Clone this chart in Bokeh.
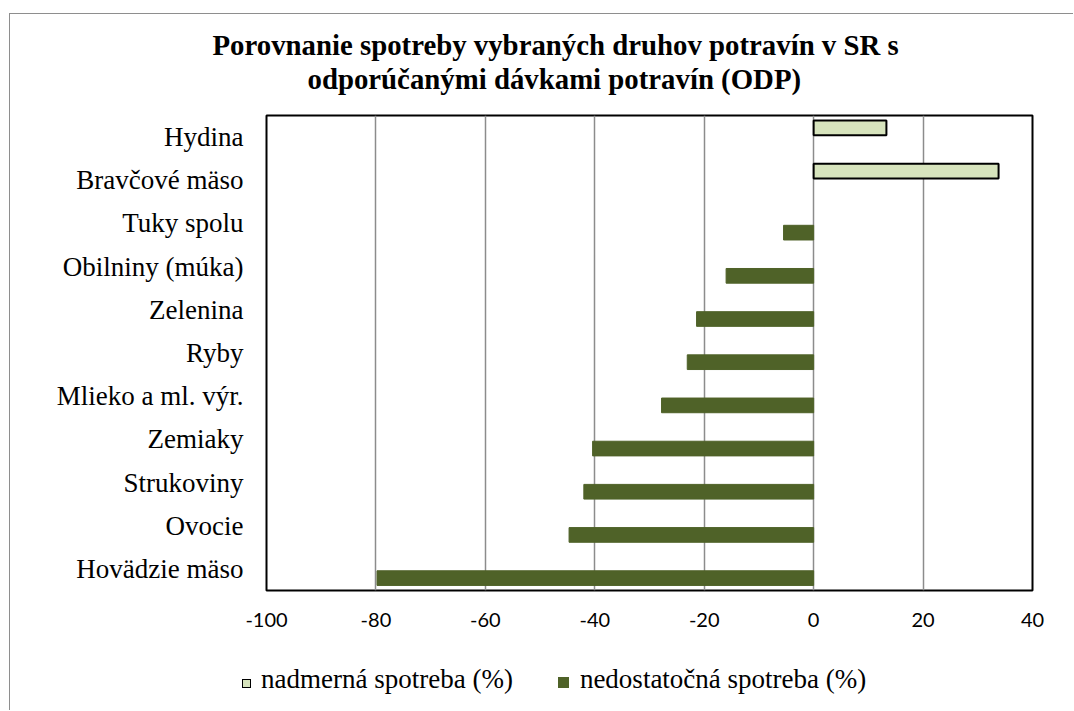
from bokeh.plotting import figure
from bokeh.layouts import column
from bokeh.models import (FactorRange, Range1d, FixedTicker, ColumnDataSource,
                          Title, Div)
from bokeh.transform import dodge
from bokeh.embed import file_html
from bokeh.resources import INLINE

# ---------------- data ----------------
categories = ["Hydina", "Bravčové mäso", "Tuky spolu", "Obilniny (múka)", "Zelenina",
              "Ryby", "Mlieko a ml. výr.", "Zemiaky", "Strukoviny", "Ovocie",
              "Hovädzie mäso"]
over_values = [13.3, 33.8, None, None, None, None, None, None, None, None, None]
under_values = [None, None, -5.5, -16.0, -21.4, -23.1, -27.8, -40.4, -42.0, -44.7, -79.8]
x_ticks = [-100, -80, -60, -40, -20, 0, 20, 40]
title_lines = ["Porovnanie spotreby vybraných druhov potravín v SR s",
               "odporúčanými dávkami potravín (ODP)"]
legend_labels = ["nadmerná spotreba (%)", "nedostatočná spotreba (%)"]

over_src = ColumnDataSource(dict(
    cat=[c for c, v in zip(categories, over_values) if v is not None],
    val=[v for v in over_values if v is not None]))
under_src = ColumnDataSource(dict(
    cat=[c for c, v in zip(categories, under_values) if v is not None],
    val=[v for v in under_values if v is not None]))

LIGHT = "#d7e4bd"
DARK = "#4f6228"
SERIF = "Liberation Serif"

p = figure(frame_width=766, frame_height=475,
           y_range=FactorRange(factors=categories[::-1]),
           x_range=Range1d(x_ticks[0], x_ticks[-1]),
           output_backend="svg", toolbar_location=None,
           min_border_left=256, min_border_right=42,
           min_border_top=101, min_border_bottom=50)
p.background_fill_color = "white"
p.border_fill_color = "white"
p.outline_line_color = "black"
p.outline_line_width = 2

p.hbar(y=dodge("cat", 0.213, range=p.y_range), left=0, right="val",
       height=0.34, source=over_src, fill_color=LIGHT,
       line_color="black", line_width=2)
p.hbar(y=dodge("cat", -0.213, range=p.y_range), left=0, right="val",
       height=0.34, source=under_src, fill_color=DARK,
       line_color=DARK, line_width=1)

p.xaxis.ticker = FixedTicker(ticks=x_ticks)
p.xaxis.major_label_overrides = {t: str(t) for t in x_ticks}
p.xgrid.ticker = FixedTicker(ticks=x_ticks)
p.xgrid.grid_line_color = "#8c8c8c"
p.xgrid.grid_line_width = 1.5
p.ygrid.grid_line_color = None

for ax in (p.xaxis[0], p.yaxis[0]):
    ax.axis_line_color = None
    ax.major_tick_line_color = None
    ax.minor_tick_line_color = None
    ax.major_tick_in = 0
    ax.major_tick_out = 0

p.xaxis.major_label_text_font = "Lato"
p.xaxis.major_label_text_font_size = "20px"
p.xaxis.major_label_text_color = "black"
p.xaxis.major_label_standoff = 22

p.yaxis.major_label_text_font = SERIF
p.yaxis.major_label_text_font_size = "27px"
p.yaxis.major_label_text_color = "black"
p.yaxis.major_label_standoff = 23

# ---------------- title (stacked above the frame) ----------------
p.add_layout(Title(text=" ", text_font_size="10px", standoff=8), "above")   # spacer
p.add_layout(Title(text=title_lines[1], align="left", offset=41, standoff=0,
                   text_font=SERIF, text_font_style="bold", text_font_size="28.8px",
                   text_color="black"), "above")
p.add_layout(Title(text=title_lines[0], align="left", offset=-54, standoff=0,
                   text_font=SERIF, text_font_style="bold", text_font_size="28.8px",
                   text_color="black"), "above")

# ---------------- legend (HTML strip under the chart) ----------------
sq = ("display:inline-block;width:{w}px;height:{w}px;background:{c};{b}"
      "vertical-align:baseline;margin-left:{ml}px;margin-right:{mr}px;")
legend_html = (
    f"<div style=\"font-family:'{SERIF}';font-size:27px;line-height:31px;"
    f"color:black;white-space:nowrap;padding-left:232px;padding-top:24px;\">"
    f"<span style=\"{sq.format(w=9, c=LIGHT, b='border:1px solid black;', ml=0, mr=10)}\"></span>"
    f"{legend_labels[0]}"
    f"<span style=\"{sq.format(w=11, c=DARK, b='', ml=45, mr=11)}\"></span>"
    f"{legend_labels[1]}</div>")
legend_div = Div(text=legend_html, width=1064, height=71)
legend_div.margin = (0, 0, 0, 0)

layout = column(p, legend_div, spacing=0)
layout.margin = (14, 0, 0, 10)
layout.styles = {"box-shadow": "-1px -1px 0 0 #8e8e8e"}

open("out.html", "w").write(file_html(layout, INLINE))
